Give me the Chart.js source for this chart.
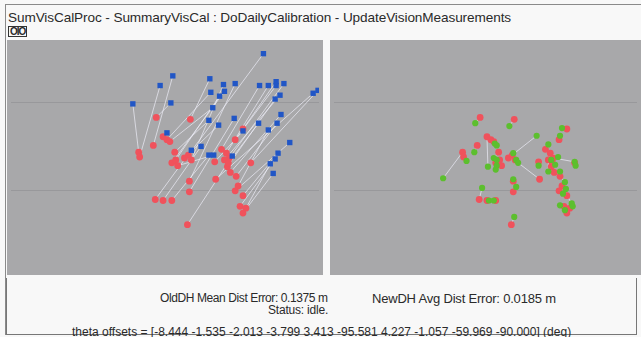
<!DOCTYPE html>
<html>
<head>
<meta charset="utf-8">
<script src="https://cdn.jsdelivr.net/npm/chart.js@4.4.1/dist/chart.umd.min.js"></script>
<style>
    html, body { margin: 0; padding: 0; }
    body {
        width: 641px; height: 337px; overflow: hidden; position: relative;
        background: #f8f8f8; font-family: "Liberation Sans", Arial, sans-serif; color: #2a2a2a;
    }
    .frame { position: absolute; left: 5px; top: 4px; width: 640px; height: 330px; border-top: 1px solid #8a8a8a; border-left: 1px solid #8a8a8a; }
    .title { position: absolute; left: 8px; top: 10px; font-size: 13.6px; letter-spacing: -0.1px; white-space: nowrap; }
    .icon { position: absolute; left: 8px; top: 26px; font-size: 10px; font-weight: bold; line-height: 9px; border: 1px solid #333; padding: 0 1px; letter-spacing: -1px; }
    .panel { position: absolute; top: 40px; height: 235px; background: #a8a8aa; }
    .status { position: absolute; left: 6px; top: 278px; width: 629px; height: 56px; border-left: 1px solid #777; border-right: 1px solid #777; border-bottom: 1px solid #777; }
    .txt { position: absolute; font-size: 12px; white-space: nowrap; letter-spacing: -0.2px; }
</style>
</head>
<body>
<div class="frame"></div>
<div class="title">SumVisCalProc - SummaryVisCal : DoDailyCalibration - UpdateVisionMeasurements</div>
<div class="icon">OIO</div>

<div class="panel" style="left:7px; width:316px;"><canvas id="oldChart" width="316" height="235"></canvas></div>
<div class="panel" style="left:330px; width:311px;"><canvas id="newChart" width="311" height="235"></canvas></div>

<div class="status"></div>
<div class="txt" style="left:160px; top:291px; letter-spacing:-0.4px;">OldDH Mean Dist Error: 0.1375 m</div>
<div class="txt" style="left:372px; top:291px; font-size:13px;">NewDH Avg Dist Error: 0.0185 m</div>
<div class="txt" style="left:268px; top:303px;">Status: idle.</div>
<div class="txt" style="left:72px; top:325px; letter-spacing:0px;">theta offsets = [-8.444 -1.535 -2.013 -3.799  3.413 -95.581  4.227 -1.057 -59.969 -90.000] (deg)</div>

<script>
// Target positions (shared by both panels), panel units, y grows downward
const redX = [149,184,156,160,163,146,131,132,168,165,169,178,182,185,183,183,148,156,165,181,238,230,216,221,224,219,222,225,210,209,246,231,233,230,238,235,241,238,223,171];
const redY = [76,78,96,99,101,105,112,117,112,123,120,118,115,120,142,153,161,162,162,187,88,99,109,113,118,120,127,133,140,122,123,137,147,152,157,168,170,175,123,126];

// Old DH positions (left panel)
const blueX = [164,204,160,205,207,166,125,153,203,219,214,213,259,218,230,229,185,195,203,227,272,272,255,264,280,276,271,277,310,238,315,273,264,286,274,271,266,269,254,208];
const blueY = [61,36,92,50,66,33,62,43,79,49,54,84,10,42,41,77,110,106,115,116,39,43,43,43,41,53,57,73,51,90,48,82,89,102,113,119,124,134,82,115];

// New DH positions (right panel)
const greenX = [144,179,157,164,166,143,111,135,163,166,166,207,183,186,183,186,151,158,163,184,233,231,219,229,246,219,226,231,188,209,247,236,237,234,243,231,244,236,222,165];
const greenY = [82,85,127,103,105,112,139,121,118,126,120,95,113,120,140,148,149,162,162,179,87,95,104,117,122,132,125,132,123,126,126,143,150,155,165,167,168,172,120,130];

// Horizontal reference rows
const gridRows = [61, 152];

function toPoints(xs, ys) {
    return xs.map((x, i) => ({ x: x, y: ys[i] }));
}

// one line dataset with gaps between each pair
function pairLines(ax, ay, bx, by) {
    const pts = [];
    for (let i = 0; i < ax.length; i++) {
        pts.push({ x: ax[i], y: ay[i] }, { x: bx[i], y: by[i] }, { x: null, y: null });
    }
    return pts;
}

function makePanel(canvasId, xMin, xMax, measX, measY, measColor, measStyle, measRadius) {
    const ctx = document.getElementById(canvasId);
    return new Chart(ctx, {
        type: 'scatter',
        data: {
            datasets: [{
                data: pairLines(measX, measY, redX, redY),
                showLine: true,
                spanGaps: false,
                borderColor: 'rgba(236, 236, 246, 0.7)',
                borderWidth: 1,
                pointRadius: 0,
                order: 3
            }, {
                data: toPoints(redX, redY),
                pointStyle: 'circle',
                pointRadius: 3.4,
                backgroundColor: '#f0525c',
                borderWidth: 0,
                order: 2
            }, {
                data: toPoints(measX, measY),
                pointStyle: measStyle,
                pointRadius: measRadius,
                backgroundColor: measColor,
                borderWidth: 0,
                order: 1
            }]
        },
        options: {
            responsive: false,
            animation: false,
            events: [],
            layout: { padding: 0 },
            plugins: { legend: { display: false }, tooltip: { enabled: false } },
            scales: {
                x: {
                    type: 'linear', min: xMin, max: xMax,
                    ticks: { display: false },
                    grid: { display: false, drawTicks: false },
                    border: { display: false }
                },
                y: {
                    type: 'linear', min: 0, max: 235, reverse: true,
                    afterBuildTicks: scale => { scale.ticks = gridRows.map(v => ({ value: v })); },
                    ticks: { display: false },
                    grid: { color: '#98989b', lineWidth: 1, drawTicks: false },
                    border: { display: false }
                }
            }
        }
    });
}

makePanel('oldChart', 0, 316, blueX, blueY, '#2156c6', 'rect', 3.8);
makePanel('newChart', -1, 310, greenX, greenY, '#5cbf2e', 'circle', 3.1);
</script>
</body>
</html>
